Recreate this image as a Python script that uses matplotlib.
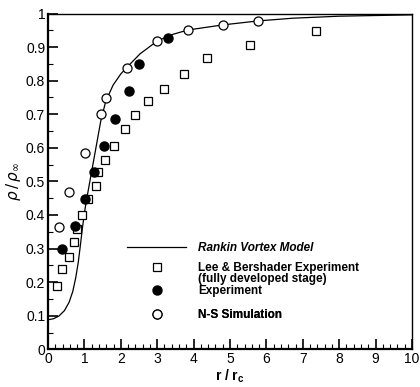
import matplotlib
matplotlib.use("Agg")
import matplotlib.pyplot as plt
from matplotlib.ticker import MultipleLocator
from matplotlib.lines import Line2D

plt.rcParams['font.family'] = ['Liberation Sans', 'DejaVu Sans']

# Rankin vortex model curve
model_r = [0.0, 0.15, 0.3, 0.45, 0.58, 0.68, 0.76, 0.83, 0.89, 0.95, 1.02, 1.1, 1.2, 1.3,
           1.45, 1.59, 1.79, 2.0, 2.17, 2.53, 3.0, 3.4, 3.85, 4.8, 5.78, 6.73, 8.0, 10.0]
model_rho = [0.088, 0.091, 0.099, 0.115, 0.14, 0.172, 0.212, 0.258, 0.31, 0.365, 0.42, 0.47,
             0.53, 0.59, 0.68, 0.74, 0.787, 0.82, 0.84, 0.88, 0.918, 0.937, 0.951, 0.966,
             0.978, 0.986, 0.992, 0.996]

# Lee & Bershader experiment
lee_r = [0.24, 0.38, 0.59, 0.72, 0.81, 0.94, 1.09, 1.31, 1.37, 1.57, 1.80, 2.11,
         2.39, 2.76, 3.20, 3.73, 4.38, 5.55, 7.35]
lee_rho = [0.188, 0.238, 0.276, 0.320, 0.357, 0.399, 0.448, 0.487, 0.527, 0.564, 0.605, 0.657,
           0.698, 0.739, 0.776, 0.819, 0.868, 0.907, 0.947]

# Experiment
exp_r = [0.39, 0.74, 1.02, 1.26, 1.53, 1.84, 2.22, 2.51, 3.31]
exp_rho = [0.299, 0.366, 0.448, 0.527, 0.605, 0.687, 0.769, 0.850, 0.928]

# N-S simulation
ns_r = [0.31, 0.59, 1.02, 1.45, 1.59, 2.17, 3.00, 3.85, 4.80, 5.78]
ns_rho = [0.365, 0.468, 0.585, 0.701, 0.747, 0.839, 0.919, 0.951, 0.965, 0.979]

labels = ["Rankin Vortex Model", "Lee & Bershader Experiment", "(fully developed stage)",
          "Experiment", "N-S Simulation"]

fig = plt.figure(figsize=(4.2, 3.87), dpi=100)
ax = fig.add_axes([48/420, 1 - 349.3/387, 364/420, 335.8/387])

ln, = ax.plot(model_r, model_rho, color='black', lw=0.9)
sq, = ax.plot(lee_r, lee_rho, 's', mfc='white', mec='black', ms=6, mew=0.9, ls='none')
fc, = ax.plot(exp_r, exp_rho, 'o', mfc='black', mec='black', ms=6.5, ls='none')
oc, = ax.plot(ns_r, ns_rho, 'o', mfc='white', mec='black', ms=6.5, mew=0.9, ls='none')

ax.set_xlim(0, 10)
ax.set_ylim(0, 1)
ax.xaxis.set_major_locator(MultipleLocator(1))
ax.xaxis.set_minor_locator(MultipleLocator(0.2))
ax.yaxis.set_major_locator(MultipleLocator(0.1))
ax.yaxis.set_minor_locator(MultipleLocator(0.05))
ax.tick_params(which='major', direction='in', length=7, width=1.2, labelsize=10, pad=2,
               top=False, right=False)
ax.tick_params(which='minor', direction='in', length=3.5, width=0.8, top=False, right=False)
ax.xaxis.set_major_formatter(plt.FuncFormatter(lambda v, p: f"{v:g}"))
ax.yaxis.set_major_formatter(plt.FuncFormatter(lambda v, p: f"{v:g}"))

for s in ['left', 'bottom']:
    ax.spines[s].set_linewidth(1.6)
for s in ['top', 'right']:
    ax.spines[s].set_linewidth(1.0)

ax.set_xlabel(r"r / r$_\mathregular{c}$", fontsize=10, fontweight='bold', labelpad=1)
ax.set_ylabel(r"$\rho\,/\,\rho_\infty$", fontsize=11, labelpad=2)

blank = Line2D([], [], ls='none', marker='none')
handles = [ln, sq, blank, fc, oc]
rows_y = [0.3017, 0.242, 0.210, 0.1736, 0.1024]
for i, (h, lab, yy) in enumerate(zip(handles, labels, rows_y)):
    leg = ax.legend([h], [lab], loc='center left', bbox_to_anchor=(0.217, yy),
                    frameon=False, prop={'size': 8.5, 'weight': 'bold',
                                         'style': 'italic' if i == 0 else 'normal'},
                    handlelength=5.0, handletextpad=1.0, borderaxespad=0, borderpad=0)
    ax.add_artist(leg)

fig.savefig("out.png", dpi=100)
